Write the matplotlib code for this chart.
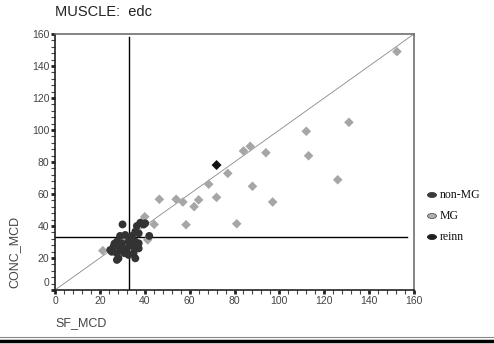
import matplotlib
matplotlib.use("Agg")
import matplotlib.pyplot as plt
from matplotlib.lines import Line2D
from matplotlib.patches import Ellipse
from matplotlib.ticker import MultipleLocator, FuncFormatter

title = "MUSCLE:  edc"
x_label = "SF_MCD"
y_label = "CONC_MCD"
legend_labels = ["non-MG", "MG", "reinn"]

# MG (light grey diamonds)
mg_x = [131, 112, 113, 126, 94, 97, 88, 87, 84, 77, 68.5, 72, 81, 64, 62, 57, 58.4, 152.4,
        46.5, 54, 44.2, 40, 41.3, 21.3, 29.8, 38.7]
mg_y = [104.8, 99.2, 83.9, 68.9, 85.8, 55, 64.8, 89.8, 86.9, 72.9, 66.1, 57.9, 41.4, 56.3, 52.1, 55, 40.8, 149,
        56.7, 56.7, 41, 45.8, 31.3, 24.6, 31.3, 42.7]

# non-MG (dark grey)
nonmg_x = [30.1, 36.5, 38, 40.2, 35.8, 37.3, 29, 31.3, 34.3, 42, 27.6, 29.8, 32.8, 35.8, 37.3,
           26.1, 29, 32, 35, 37.3, 25.3, 27.6, 30.5, 32.8, 35, 35.8, 28.3, 27.6, 24.6, 39.5, 33.5, 31, 26.5]
nonmg_y = [41, 40, 42, 41.7, 36.5, 35.4, 33.8, 34.4, 33.8, 33.8, 30.2, 29.2, 30.2, 30.2, 29.2,
           27.1, 26, 26, 27.1, 26, 23.9, 22.9, 23.9, 21.9, 22.9, 19.8, 19.8, 18.8, 25, 40.9, 28, 23, 29]

# reinn (black)
reinn_x = [72]
reinn_y = [78.1]

cut_x = 33
cut_y = 33

plt.rcParams['font.family'] = ['Liberation Sans', 'DejaVu Sans']

fig = plt.figure(figsize=(4.94, 3.44), dpi=100)
ax = fig.add_axes([55/494, 1-290/344, (414-55)/494, (290-34)/344])
ax.set_xlim(0, 160)
ax.set_ylim(0, 160)

ax.plot([0, 160], [0, 160], color="#888888", lw=0.6, zorder=1)
ax.axvline(cut_x, ymin=0, ymax=158/160, color="black", lw=1.0, zorder=2)
ax.axhline(cut_y, xmin=0, xmax=157/160, color="black", lw=1.0, zorder=2)

ax.scatter(mg_x, mg_y, marker="D", s=24, color="#a6a6a6", edgecolors="none", zorder=3)
ax.scatter(nonmg_x, nonmg_y, marker="o", s=32, color="#333333", edgecolors="none", zorder=4)
ax.scatter(reinn_x, reinn_y, marker="D", s=26, color="#111111", edgecolors="none", zorder=5)

for side in ["left", "bottom"]:
    ax.spines[side].set_color("#222222")
    ax.spines[side].set_linewidth(1.2)
for side in ["top", "right"]:
    ax.spines[side].set_color("#707070")
    ax.spines[side].set_linewidth(1.2)

ax.xaxis.set_major_locator(MultipleLocator(20))
ax.yaxis.set_major_locator(MultipleLocator(20))
ax.xaxis.set_minor_locator(MultipleLocator(4))
ax.yaxis.set_minor_locator(MultipleLocator(4))
ax.yaxis.set_major_formatter(FuncFormatter(lambda v, p: "" if v == 0 else f"{v:g}"))
ax.tick_params(which="major", direction="out", length=3, width=2, labelsize=7.5, colors="#222222",
               labelcolor="#444444", pad=1)
ax.tick_params(which="minor", direction="out", length=3, width=0.8, colors="#444444")
# the zero label on the y axis sits a little higher in the original
ax.annotate("0", xy=(0, 0), xycoords=("axes fraction", "data"), xytext=(-4, 5),
            textcoords="offset points", ha="right", va="center", fontsize=7.5, color="#444444")

fig.text(55/494, 1-12/344, title, fontsize=10.5, color="#222222", ha="left", va="center")
fig.text(55/494, 1-323/344, x_label, fontsize=9, color="#444444", ha="left", va="center")
fig.text(14/494, 1-252/344, y_label, fontsize=9, color="#444444", rotation=90, ha="center", va="center")

# legend
leg_colors = ["#3a3a3a", "#b0b0b0", "#202020"]
leg_edges = ["#3a3a3a", "#555555", "#202020"]
for i, (lab, c, e) in enumerate(zip(legend_labels, leg_colors, leg_edges)):
    yy = 1 - (195 + 21*i)/344
    fig.add_artist(Ellipse((432/494, yy), 9/494, 5/344, facecolor=c, edgecolor=e, lw=0.6,
                           transform=fig.transFigure))
    fig.text(440/494, yy, lab, fontsize=8.5, family=["Liberation Serif", "DejaVu Serif"],
             color="#111111", ha="left", va="center")

fig.add_artist(Line2D([0, 1], [1-337/344, 1-337/344], color="#888888", lw=0.8, transform=fig.transFigure))
fig.add_artist(Line2D([0, 1], [1-340.5/344, 1-340.5/344], color="black", lw=2.5, transform=fig.transFigure))

fig.savefig("out.png", dpi=100)
